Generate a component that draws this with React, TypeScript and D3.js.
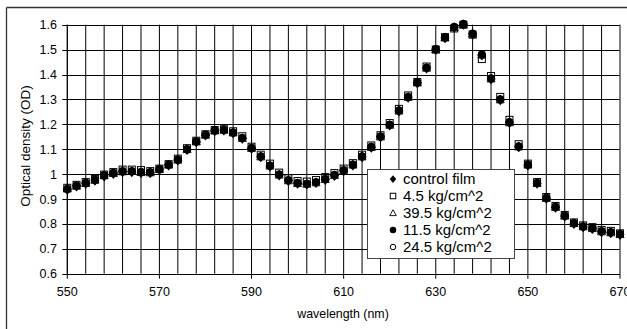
import React from 'react';
import * as d3 from 'd3';

// wavelength (nm), one reading every 2 nm
const wavelengths = [
  550, 552, 554, 556, 558, 560, 562, 564, 566, 568,
  570, 572, 574, 576, 578, 580, 582, 584, 586, 588,
  590, 592, 594, 596, 598, 600, 602, 604, 606, 608,
  610, 612, 614, 616, 618, 620, 622, 624, 626, 628,
  630, 632, 634, 636, 638, 640, 642, 644, 646, 648,
  650, 652, 654, 656, 658, 660, 662, 664, 666, 668, 670,
];

const controlFilm = [
  0.938, 0.951, 0.962, 0.975, 0.992, 1.002, 1.009, 1.009, 1.006, 1.005,
  1.018, 1.036, 1.056, 1.098, 1.129, 1.156, 1.173, 1.176, 1.165, 1.143,
  1.103, 1.069, 1.032, 0.996, 0.973, 0.962, 0.959, 0.965, 0.978, 0.994,
  1.013, 1.036, 1.069, 1.107, 1.149, 1.196, 1.253, 1.308, 1.366, 1.425,
  1.5, 1.547, 1.589, 1.601, 1.562, 1.478, 1.382, 1.298, 1.206, 1.109,
  1.036, 0.962, 0.902, 0.866, 0.831, 0.801, 0.788, 0.781, 0.768, 0.764, 0.757,
];

const kg4_5 = [
  0.945, 0.957, 0.968, 0.98, 0.998, 1.008, 1.018, 1.018, 1.016, 1.012,
  1.022, 1.04, 1.062, 1.104, 1.134, 1.16, 1.177, 1.18, 1.172, 1.152,
  1.11, 1.078, 1.042, 1.006, 0.983, 0.972, 0.97, 0.976, 0.988, 1.004,
  1.022, 1.044, 1.078, 1.115, 1.156, 1.205, 1.262, 1.316, 1.37, 1.432,
  1.5, 1.55, 1.585, 1.6, 1.56, 1.462, 1.394, 1.31, 1.218, 1.12,
  1.042, 0.968, 0.908, 0.872, 0.836, 0.806, 0.794, 0.787, 0.776, 0.772, 0.762,
];

const kg39_5 = [
  0.941, 0.952, 0.963, 0.976, 0.994, 1.003, 1.01, 1.012, 1.007, 1.006,
  1.019, 1.037, 1.057, 1.099, 1.13, 1.157, 1.174, 1.177, 1.166, 1.144,
  1.104, 1.07, 1.033, 0.997, 0.974, 0.963, 0.96, 0.966, 0.979, 0.995,
  1.014, 1.037, 1.07, 1.108, 1.15, 1.197, 1.254, 1.309, 1.367, 1.426,
  1.501, 1.548, 1.59, 1.602, 1.563, 1.479, 1.383, 1.299, 1.207, 1.11,
  1.037, 0.963, 0.903, 0.867, 0.832, 0.802, 0.789, 0.782, 0.769, 0.765, 0.758,
];

const kg11_5 = [
  0.94, 0.953, 0.964, 0.977, 0.995, 1.004, 1.011, 1.011, 1.008, 1.007,
  1.02, 1.038, 1.058, 1.1, 1.131, 1.158, 1.175, 1.178, 1.167, 1.145,
  1.105, 1.071, 1.034, 0.998, 0.975, 0.964, 0.961, 0.967, 0.98, 0.996,
  1.015, 1.038, 1.071, 1.109, 1.151, 1.198, 1.255, 1.31, 1.368, 1.427,
  1.502, 1.549, 1.591, 1.603, 1.564, 1.48, 1.384, 1.3, 1.208, 1.111,
  1.038, 0.964, 0.904, 0.868, 0.833, 0.803, 0.79, 0.783, 0.77, 0.766, 0.759,
];

const kg24_5 = [
  0.941, 0.954, 0.965, 0.978, 0.996, 1.005, 1.012, 1.012, 1.009, 1.008,
  1.021, 1.039, 1.059, 1.101, 1.132, 1.159, 1.176, 1.179, 1.168, 1.146,
  1.106, 1.072, 1.035, 0.999, 0.976, 0.965, 0.962, 0.968, 0.981, 0.997,
  1.016, 1.039, 1.072, 1.11, 1.152, 1.199, 1.256, 1.311, 1.369, 1.428,
  1.503, 1.55, 1.592, 1.603, 1.565, 1.481, 1.385, 1.301, 1.209, 1.112,
  1.039, 0.965, 0.905, 0.869, 0.834, 0.804, 0.791, 0.784, 0.771, 0.767, 0.76,
];

const seriesNames = ['control film', '4.5 kg/cm^2', '39.5 kg/cm^2', '11.5 kg/cm^2', '24.5 kg/cm^2'];
const seriesValues = [controlFilm, kg4_5, kg39_5, kg11_5, kg24_5];
const seriesMarkers = ['diamond', 'square', 'triangle', 'dot', 'circle'];

const xTickLabels = [550, 570, 590, 610, 630, 650, 670];
const yTickLabels = [0.6, 0.7, 0.8, 0.9, 1, 1.1, 1.2, 1.3, 1.4, 1.5, 1.6];

const width = 627;
const height = 329;
const font = '"Liberation Sans", Arial, sans-serif';

// draws one marker centred on (cx, cy); s = rough size in px
const Marker = ({ type, cx, cy, s }: { type: string; cx: number; cy: number; s: number }) => {
  const h = s / 2;
  if (type === 'diamond') {
    return <path d={`M${cx},${cy - h - 0.6}L${cx + h},${cy}L${cx},${cy + h + 0.8}L${cx - h},${cy}Z`} fill="#000" />;
  }
  if (type === 'square') {
    return <rect x={cx - h + 0.5} y={cy - h + 0.5} width={s - 1} height={s - 1} fill="none" stroke="#000" strokeWidth={1} />;
  }
  if (type === 'triangle') {
    return <path d={`M${cx},${cy - h}L${cx + h},${cy + h * 0.8}L${cx - h},${cy + h * 0.8}Z`} fill="none" stroke="#000" strokeWidth={0.9} />;
  }
  if (type === 'dot') {
    return <circle cx={cx} cy={cy} r={h} fill="#000" />;
  }
  return <circle cx={cx} cy={cy} r={h - 0.5} fill="none" stroke="#000" strokeWidth={1} />;
};

const App = () => {
  const x = d3.scaleLinear().domain([550, 670]).range([67.3, 620]);
  const y = d3.scaleLinear().domain([0.6, 1.6]).range([273.7, 24.7]);

  const vGrid = d3.range(550, 671, 4);

  const legendX = 367;
  const legendY = 169;

  return (
    <svg
      width={width}
      height={height}
      style={{ position: 'absolute', left: 0, top: 0, background: '#fff' }}
      fontFamily={font}
    >
      <rect x={0} y={0} width={width} height={height} fill="#fff" />
      {/* outer chart frame (cut on the right and bottom) */}
      <line x1={6.5} y1={7.5} x2={width} y2={7.5} stroke="#333" strokeWidth={1.3} />
      <line x1={6.5} y1={7.5} x2={6.5} y2={height} stroke="#333" strokeWidth={1.3} />

      {/* grid */}
      {vGrid.map(v => (
        <line key={'v' + v} x1={x(v)} x2={x(v)} y1={y(1.6)} y2={y(0.6)} stroke="#000" strokeWidth={1} />
      ))}
      {yTickLabels.map(v => (
        <line key={'h' + v} x1={x(550)} x2={x(670)} y1={Math.round(y(v)) + 0.5} y2={Math.round(y(v)) + 0.5} stroke="#000" strokeWidth={1} />
      ))}
      <line x1={x(670)} x2={x(670)} y1={y(1.6)} y2={y(0.6)} stroke="#808080" strokeWidth={1} />

      {/* axes */}
      <line x1={x(550)} x2={x(550)} y1={y(1.6)} y2={y(0.6)} stroke="#000" strokeWidth={1} />
      <line x1={x(550)} x2={x(670)} y1={Math.round(y(0.6)) + 0.5} y2={Math.round(y(0.6)) + 0.5} stroke="#000" strokeWidth={1} />
      {yTickLabels.map(v => (
        <g key={'yt' + v}>
          <line x1={x(550) - 5} x2={x(550)} y1={Math.round(y(v)) + 0.5} y2={Math.round(y(v)) + 0.5} stroke="#000" />
          <text x={57} y={y(v)} dy="0.36em" textAnchor="end" fontSize={12.5} fill="#000">
            {String(v)}
          </text>
        </g>
      ))}
      {xTickLabels.map(v => (
        <g key={'xt' + v}>
          <line x1={x(v)} x2={x(v)} y1={y(0.6)} y2={y(0.6) + 5} stroke="#000" />
          <text x={x(v)} y={296} textAnchor="middle" fontSize={12.5} fill="#000">
            {v}
          </text>
        </g>
      ))}

      <text x={343} y={318} textAnchor="middle" fontSize={12.4} fill="#000">
        wavelength (nm)
      </text>
      <text transform="translate(25,146) rotate(-90)" textAnchor="middle" dy="0.35em" fontSize={13.5} fill="#000">
        Optical density (OD)
      </text>

      {/* data */}
      {seriesValues.map((vals, si) => (
        <g key={'s' + si}>
          {vals.map((v, i) => (
            <Marker key={i} type={seriesMarkers[si]} cx={x(wavelengths[i])} cy={y(v)} s={si === 0 ? 9 : 8} />
          ))}
        </g>
      ))}

      {/* legend */}
      <rect x={legendX + 0.5} y={legendY + 0.5} width={147} height={89} fill="#fff" stroke="#444" strokeWidth={1} />
      {seriesNames.map((name, i) => {
        const cy = legendY + 10 + i * 17;
        return (
          <g key={'l' + i}>
            <Marker type={seriesMarkers[i]} cx={legendX + 26} cy={cy} s={6.5} />
            <text x={legendX + 36} y={cy} dy="0.36em" fontSize={15} fill="#000">
              {name}
            </text>
          </g>
        );
      })}
    </svg>
  );
};

export default App;
